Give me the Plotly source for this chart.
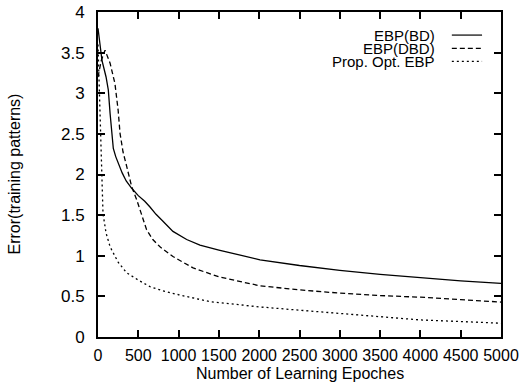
import plotly.graph_objects as go

# ---- data ----
epochs_bd = [0, 50, 100, 128, 150, 170, 190, 220, 252, 300, 350, 418, 500, 580, 645, 720, 800, 930,
             1100, 1265, 1500, 1750, 2010, 2500, 3000, 3500, 4000, 4500, 5000]
err_bd = [3.8, 3.4, 3.2, 3.04, 2.75, 2.5, 2.32, 2.22, 2.14, 2.02, 1.92, 1.83, 1.74, 1.67, 1.60, 1.51, 1.43, 1.30,
          1.20, 1.13, 1.07, 1.01, 0.95, 0.88, 0.82, 0.77, 0.73, 0.69, 0.66]

epochs_dbd = [0, 40, 87, 150, 210, 250, 273, 310, 356, 418, 480, 540, 603, 680, 769, 930, 1180,
              1500, 2010, 2500, 3000, 3500, 4000, 4500, 5000]
err_dbd = [3.2, 3.4, 3.53, 3.37, 3.12, 2.79, 2.51, 2.28, 2.10, 1.85, 1.69, 1.50, 1.32, 1.20, 1.11, 0.99, 0.85,
           0.74, 0.63, 0.58, 0.54, 0.51, 0.49, 0.46, 0.43]

epochs_opt = [0, 15, 30, 45, 62, 100, 150, 250, 356, 500, 645, 800, 1000, 1390, 2010, 2500, 3000,
              3500, 4000, 4500, 5000]
err_opt = [3.6, 3.1, 2.5, 2.0, 1.52, 1.28, 1.11, 0.92, 0.79, 0.70, 0.62, 0.57, 0.52, 0.435, 0.37, 0.33, 0.29,
           0.25, 0.21, 0.19, 0.17]

series_names = ["EBP(BD)", "EBP(DBD)", "Prop. Opt. EBP"]
x_ticks = [0, 500, 1000, 1500, 2000, 2500, 3000, 3500, 4000, 4500, 5000]
y_ticks = [0, 0.5, 1, 1.5, 2, 2.5, 3, 3.5, 4]
x_title = "Number of Learning Epoches"
y_title = "Error(training patterns)"

FONT = "Liberation Sans, Arial, sans-serif"
dashes = ["solid", "5px,3px", "2px,3px"]

fig = go.Figure()
for xs, ys, name, d in zip([epochs_bd, epochs_dbd, epochs_opt], [err_bd, err_dbd, err_opt],
                           series_names, dashes):
    fig.add_trace(go.Scatter(x=xs, y=ys, mode="lines", name=name,
                             line=dict(color="black", width=1.3, dash=d),
                             showlegend=False))

# manual legend (text right-aligned, sample to its right, gnuplot style)
leg_y = [0.929, 0.888, 0.848]
for name, d, yy in zip(series_names, dashes, leg_y):
    fig.add_annotation(x=0.841, y=yy, xref="paper", yref="paper", text=name, showarrow=False,
                       xanchor="right", yanchor="middle", font=dict(family=FONT, size=15, color="black"))
    fig.add_shape(type="line", xref="paper", yref="paper", x0=0.878, x1=0.953, y0=yy, y1=yy,
                  line=dict(color="black", width=1.2, dash=d))

# axis titles
fig.add_annotation(x=0.501, y=-0.113, xref="paper", yref="paper", text=x_title, showarrow=False,
                   xanchor="center", yanchor="middle", font=dict(family=FONT, size=16, color="black"))
fig.add_annotation(x=-0.206, y=0.503, xref="paper", yref="paper", text=y_title, showarrow=False,
                   textangle=-90, xanchor="center", yanchor="middle",
                   font=dict(family=FONT, size=16, color="black"))

axis_common = dict(showline=True, linecolor="black", linewidth=2, mirror="ticks", ticks="inside",
                   ticklen=7, tickwidth=1.5, tickcolor="black", showgrid=False, zeroline=False,
                   automargin=False, tickangle=0, ticklabeloverflow="allow")

fig.update_xaxes(range=[0, 5000], tickvals=x_ticks, ticktext=[str(v) for v in x_ticks],
                 ticklabelstandoff=3, tickfont=dict(family=FONT, size=16, color="black"), **axis_common)
fig.update_yaxes(range=[0, 4], tickvals=y_ticks, ticktext=[f"{v:g}" for v in y_ticks],
                 ticklabelstandoff=8, tickfont=dict(family=FONT, size=17, color="black"), **axis_common)

fig.update_layout(width=519, height=385, margin=dict(l=98, r=18, t=12, b=48),
                  plot_bgcolor="white", paper_bgcolor="white", showlegend=False)

# remove the default page margin so the figure fills the window exactly
fig.write_html("out.html", config={"displayModeBar": False},
               post_script="document.body.style.margin='0px';")
